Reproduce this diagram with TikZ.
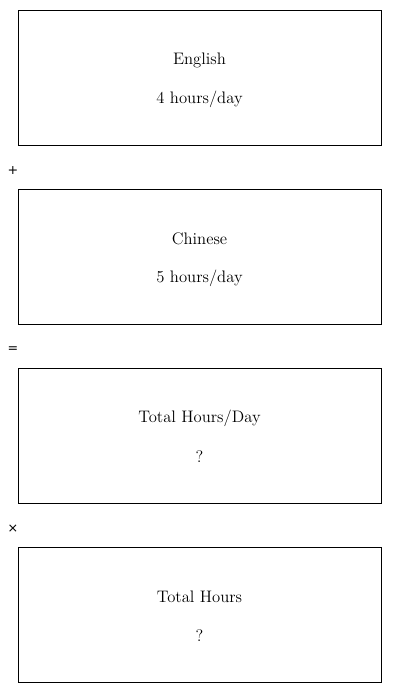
\documentclass[tikz,border=0pt]{standalone}
\usepackage{fontspec}
\newfontfamily\opfont{DejaVu Sans}
\begin{document}
\begin{tikzpicture}[x=0.75pt,y=-0.75pt,
  box/.style={draw=black,line width=0.75pt,minimum width=363*0.75pt,minimum height=135*0.75pt,inner sep=0pt},
  lbl/.style={font=\fontsize{12.5}{15}\selectfont,anchor=center},
  op/.style={font=\opfont\fontsize{9.5}{11}\selectfont,anchor=center}]
\useasboundingbox (0,0) rectangle (400,693);
\node[box] (b1) at (199.5,77.5) {};
\node[box] (b2) at (199.5,256.5) {};
\node[box] (b3) at (199.5,435.5) {};
\node[box] (b4) at (199.5,614.5) {};
\node[lbl] (t1a) at (199.5,60) {English};
\node[lbl] (t1b) at (199.5,99) {4 hours/day};
\node[lbl] (t2a) at (199.5,239) {Chinese};
\node[lbl] (t2b) at (199.5,278) {5 hours/day};
\node[lbl] (t3a) at (199.5,418) {Total Hours/Day};
\node[lbl] (t3b) at (199.5,457) {?};
\node[lbl] (t4a) at (199.5,597) {Total Hours};
\node[lbl] (t4b) at (199.5,636) {?};
\node[op] (o1) at (13,170.5) {+};
\node[op] (o2) at (13,349.5) {=};
\node[op] (o3) at (13,528.5) {×};
\end{tikzpicture}
\end{document}
